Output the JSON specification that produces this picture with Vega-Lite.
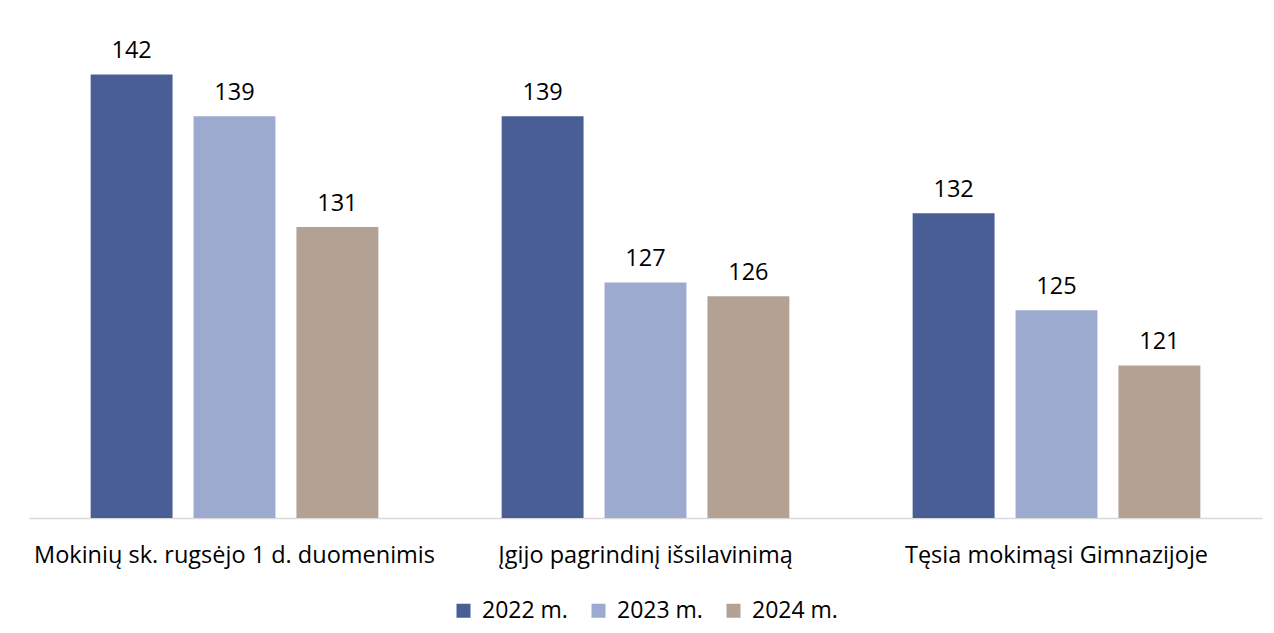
{
  "$schema": "https://vega.github.io/schema/vega-lite/v6.json",
  "width": 1233,
  "height": 485,
  "padding": {"left": 29, "top": 33, "right": 12, "bottom": 5},
  "background": "white",
  "config": {"view": {"stroke": null}, "font": "Open Sans"},
  "data": {"values": [
    {"cat": "Mokinių sk. rugsėjo 1 d. duomenimis", "year": "2022 m.", "v": 142},
    {"cat": "Mokinių sk. rugsėjo 1 d. duomenimis", "year": "2023 m.", "v": 139},
    {"cat": "Mokinių sk. rugsėjo 1 d. duomenimis", "year": "2024 m.", "v": 131},
    {"cat": "Įgijo pagrindinį išsilavinimą", "year": "2022 m.", "v": 139},
    {"cat": "Įgijo pagrindinį išsilavinimą", "year": "2023 m.", "v": 127},
    {"cat": "Įgijo pagrindinį išsilavinimą", "year": "2024 m.", "v": 126},
    {"cat": "Tęsia mokimąsi Gimnazijoje", "year": "2022 m.", "v": 132},
    {"cat": "Tęsia mokimąsi Gimnazijoje", "year": "2023 m.", "v": 125},
    {"cat": "Tęsia mokimąsi Gimnazijoje", "year": "2024 m.", "v": 121}
  ]},
  "encoding": {
    "x": {"field": "cat", "type": "nominal", "sort": null, "title": null,
      "scale": {"paddingInner": 0.3, "paddingOuter": 0.15},
      "axis": {"labelAngle": 0, "labelFontSize": 23.5, "labelColor": "#000000", "ticks": false,
        "domainColor": "#d9d9d9", "domainWidth": 1.5, "labelPadding": 25, "labelLimit": 600}},
    "xOffset": {"field": "year", "type": "nominal", "sort": null,
      "scale": {"paddingInner": 0.204, "paddingOuter": 0}},
    "y": {"field": "v", "type": "quantitative", "scale": {"domain": [110, 145], "zero": false, "nice": false}, "axis": null}
  },
  "layer": [
    {"mark": {"type": "bar", "clip": true},
      "encoding": {"color": {"field": "year", "type": "nominal", "sort": null, "title": null,
        "scale": {"range": ["#4A5E96", "#9CAACF", "#B3A194"]},
        "legend": {"orient": "none", "legendX": 423, "legendY": 566, "direction": "horizontal", "symbolType": "square", "symbolSize": 196,
          "labelFontSize": 23, "labelColor": "#000000", "columnPadding": 19, "labelOffset": 7, "symbolStrokeWidth": 0}}}},
    {"mark": {"type": "text", "baseline": "alphabetic", "dy": -16.5, "fontSize": 23.5, "color": "#000000"},
      "encoding": {"text": {"field": "v", "type": "quantitative"}}}
  ]
}
